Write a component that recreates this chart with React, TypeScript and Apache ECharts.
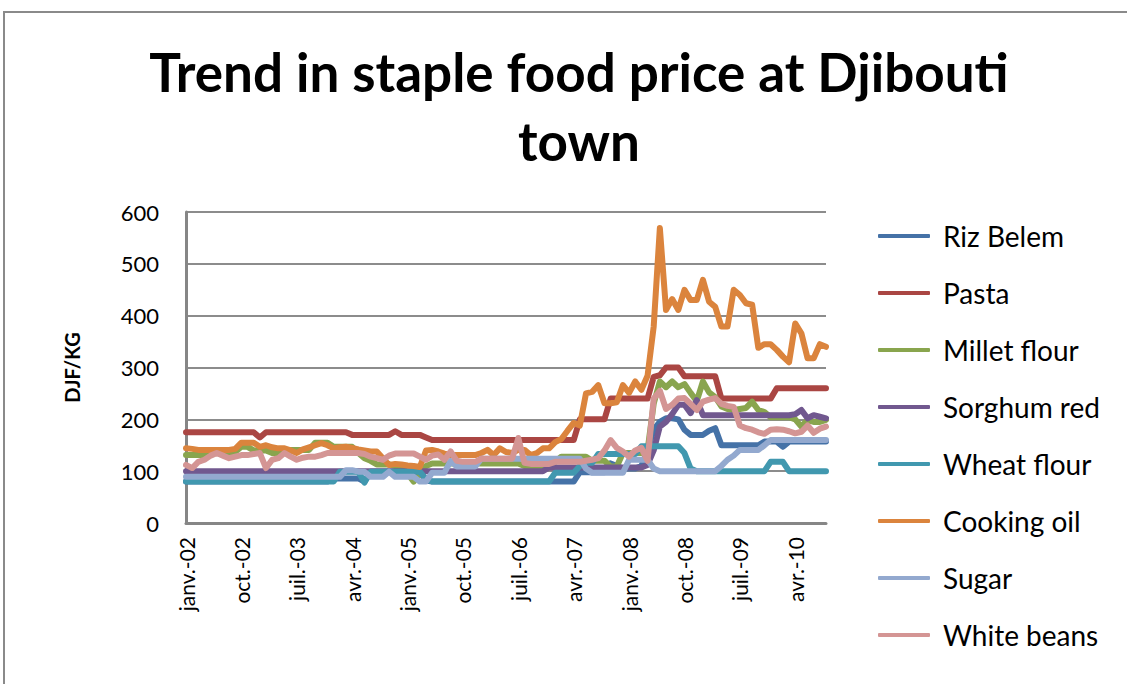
import React, { useEffect, useRef } from "react";
import * as echarts from "echarts";

const monthNames = ["janv.", "févr.", "mars", "avr.", "mai", "juin", "juil.", "août", "sept.", "oct.", "nov.", "déc."];
const years = ["02", "03", "04", "05", "06", "07", "08", "09", "10"];
const monthCount = 105;
const categories: string[] = years.flatMap((y) => monthNames.map((m) => `${m}-${y}`)).slice(0, monthCount);

const seriesNames = ["Riz Belem", "Pasta", "Millet flour", "Sorghum red", "Wheat flour", "Cooking oil", "Sugar", "White beans"];
const seriesColors = ["#4572A7", "#AA4643", "#89A54E", "#71588F", "#4198AF", "#DB843D", "#93A9CF", "#D49594"];

const rizBelem = [
  80, 80, 80, 80, 80, 80, 80, 80, 80, 80,
  80, 80, 80, 80, 80, 80, 80, 80, 80, 80,
  80, 80, 80, 80, 86, 86, 86, 86, 86, 80,
  99, 99, 99, 99, 99, 99, 99, 99, 99, 82,
  80, 80, 80, 80, 80, 80, 80, 80, 80, 80,
  80, 80, 80, 80, 80, 80, 80, 80, 80, 80,
  80, 80, 80, 80, 98, 98, 98, 98, 98, 115,
  110, 105, 105, 105, 110, 140, 180, 195, 202, 202,
  200, 180, 170, 170, 170, 178, 183, 150, 150, 150,
  150, 150, 150, 150, 157, 157, 157, 147, 157, 157,
  157, 157, 157, 157, 157,
];
const pasta = [
  175, 175, 175, 175, 175, 175, 175, 175, 175, 175,
  175, 175, 165, 175, 175, 175, 175, 175, 175, 175,
  175, 175, 175, 175, 175, 175, 175, 170, 170, 170,
  170, 170, 170, 170, 177, 170, 170, 170, 170, 165,
  160, 160, 160, 160, 160, 160, 160, 160, 160, 160,
  160, 160, 160, 160, 160, 160, 160, 160, 160, 160,
  160, 160, 160, 160, 200, 200, 200, 200, 200, 240,
  240, 240, 240, 240, 240, 240, 282, 285, 300, 300,
  300, 283, 283, 283, 283, 283, 283, 240, 240, 240,
  240, 240, 240, 240, 240, 240, 260, 260, 260, 260,
  260, 260, 260, 260, 260,
];
const milletFlour = [
  131, 131, 131, 131, 131, 137, 137, 137, 137, 147,
  147, 140, 140, 140, 135, 135, 135, 141, 141, 141,
  141, 155, 155, 155, 147, 147, 147, 147, 135, 125,
  120, 113, 113, 113, 110, 110, 95, 80, 95, 110,
  115, 115, 115, 115, 115, 115, 115, 115, 115, 115,
  115, 115, 115, 115, 115, 110, 110, 110, 110, 118,
  118, 128, 128, 128, 128, 128, 120, 120, 120, 109,
  109, 135, 135, 135, 135, 140, 230, 273, 262, 273,
  262, 268, 251, 235, 273, 252, 243, 225, 220, 218,
  220, 222, 234, 218, 214, 204, 204, 204, 204, 200,
  186, 199, 195, 195, 199,
];
const sorghumRed = [
  100, 100, 100, 100, 100, 100, 100, 100, 100, 100,
  100, 100, 100, 100, 100, 100, 100, 100, 100, 100,
  100, 100, 100, 100, 100, 100, 100, 100, 100, 100,
  100, 100, 100, 100, 100, 100, 100, 100, 100, 100,
  100, 100, 100, 100, 100, 100, 100, 100, 100, 100,
  100, 100, 100, 100, 100, 100, 100, 100, 100, 107,
  107, 107, 107, 107, 107, 107, 107, 107, 107, 107,
  107, 107, 107, 107, 107, 112, 140, 186, 195, 210,
  228, 228, 212, 237, 208, 208, 208, 208, 208, 208,
  208, 208, 208, 208, 208, 208, 208, 208, 208, 210,
  218, 202, 208, 205, 202,
];
const wheatFlour = [
  80, 80, 80, 80, 80, 80, 80, 80, 80, 80,
  80, 80, 80, 80, 80, 80, 80, 80, 80, 80,
  80, 80, 80, 80, 80, 99, 99, 99, 99, 78,
  99, 99, 99, 99, 99, 99, 99, 99, 99, 85,
  80, 80, 80, 80, 80, 80, 80, 80, 80, 80,
  80, 80, 80, 80, 80, 80, 80, 80, 80, 80,
  97, 97, 97, 97, 110, 116, 116, 133, 133, 133,
  133, 133, 133, 133, 148, 148, 148, 148, 148, 148,
  148, 135, 105, 100, 100, 100, 100, 100, 100, 100,
  100, 100, 100, 100, 100, 118, 118, 118, 100, 100,
  100, 100, 100, 100, 100,
];
const cookingOil = [
  144, 143, 141, 141, 141, 141, 141, 141, 143, 155,
  155, 155, 147, 150, 146, 144, 144, 140, 135, 142,
  146, 150, 154, 150, 144, 146, 147, 145, 142, 140,
  138, 138, 125, 112, 114, 113, 111, 110, 108, 140,
  141, 138, 134, 131, 131, 131, 131, 131, 135, 141,
  131, 144, 137, 135, 141, 141, 131, 135, 144, 144,
  156, 162, 178, 193, 188, 250, 253, 266, 231, 231,
  233, 266, 251, 273, 257, 284, 379, 569, 411, 432,
  411, 450, 430, 430, 469, 427, 417, 379, 379, 450,
  440, 424, 421, 338, 345, 345, 334, 321, 310, 385,
  366, 318, 318, 345, 340,
];
const sugar = [
  89, 89, 89, 89, 89, 89, 89, 89, 89, 89,
  89, 89, 89, 89, 89, 89, 89, 89, 89, 89,
  89, 89, 89, 89, 89, 89, 102, 102, 99, 99,
  89, 89, 89, 99, 89, 89, 89, 89, 80, 80,
  97, 97, 97, 120, 109, 109, 109, 109, 124, 124,
  124, 124, 124, 124, 124, 124, 124, 124, 124, 124,
  124, 124, 124, 124, 124, 105, 97, 97, 97, 97,
  97, 97, 122, 122, 122, 122, 105, 100, 100, 100,
  100, 100, 100, 100, 100, 100, 100, 110, 122, 130,
  141, 141, 141, 141, 150, 160, 160, 160, 160, 160,
  160, 160, 160, 160, 160,
];
const whiteBeans = [
  112, 106, 118, 122, 130, 135, 130, 125, 128, 131,
  131, 133, 135, 106, 122, 125, 135, 128, 122, 126,
  128, 128, 131, 135, 135, 135, 135, 135, 135, 133,
  128, 125, 122, 130, 134, 134, 134, 134, 128, 122,
  130, 132, 122, 138, 120, 118, 118, 118, 124, 124,
  124, 124, 124, 124, 164, 116, 114, 114, 114, 114,
  118, 118, 118, 118, 118, 120, 122, 125, 140, 160,
  145, 138, 128, 140, 145, 120, 240, 255, 220, 228,
  240, 241, 230, 218, 234, 238, 241, 230, 226, 224,
  188, 183, 180, 175, 172, 180, 181, 180, 177, 173,
  176, 188, 174, 182, 186,
];

const allSeries = [rizBelem, pasta, milletFlour, sorghumRed, wheatFlour, cookingOil, sugar, whiteBeans];
const yTicks = { min: 0, max: 600, interval: 100 };

const FONT = "Lato, 'Open Sans', sans-serif";

export default function App() {
  const ref = useRef<HTMLDivElement>(null);
  useEffect(() => {
    if (!ref.current) return;
    const chart = echarts.init(ref.current, undefined, { renderer: "svg" });
    chart.setOption({
      animation: false,
      backgroundColor: "#ffffff",
      textStyle: { fontFamily: FONT, color: "#000" },
      title: {
        text: "Trend in staple food price at Djibouti\ntown",
        left: 574,
        top: 32,
        textAlign: "center",
        textStyle: { fontFamily: FONT, fontWeight: "bold", fontSize: 53, lineHeight: 69, color: "#000" },
      },
      graphic: [
        {
          type: "rect",
          shape: { x: 4, y: 12, width: 1300, height: 900 },
          style: { fill: "none", stroke: "#8a8a8a", lineWidth: 2 },
          silent: true,
        },
      ],
      legend: {
        orient: "vertical",
        left: 873,
        top: 217,
        icon: "roundRect",
        itemWidth: 52,
        itemHeight: 4,
        itemGap: 29,
        data: seriesNames,
        textStyle: { fontFamily: FONT, fontSize: 28, lineHeight: 28, color: "#000", padding: [0, 0, 0, 8] },
      },
      grid: { left: 186, right: 301, top: 212, bottom: 161, containLabel: false },
      xAxis: {
        type: "category",
        data: categories,
        boundaryGap: false,
        axisLine: { lineStyle: { color: "#868686", width: 3 } },
        axisTick: { show: false },
        axisLabel: {
          interval: 8,
          rotate: 90,
          margin: 14,
          fontFamily: FONT,
          fontSize: 21,
          color: "#000",
        },
        splitLine: { show: false },
      },
      yAxis: {
        type: "value",
        min: yTicks.min,
        max: yTicks.max,
        interval: yTicks.interval,
        name: "DJF/KG",
        nameLocation: "middle",
        nameRotate: 90,
        nameGap: 104,
        nameTextStyle: { fontFamily: FONT, fontWeight: "bold", fontSize: 20, color: "#000" },
        axisLine: { show: true, lineStyle: { color: "#868686", width: 3 } },
        axisTick: { show: false },
        axisLabel: { margin: 27, fontFamily: FONT, fontSize: 22, color: "#000" },
        splitLine: { lineStyle: { color: "#8c8c8c", width: 2 } },
      },
      series: seriesNames.map((name, k) => ({
        name,
        type: "line",
        data: allSeries[k],
        showSymbol: false,
        symbol: "none",
        color: seriesColors[k],
        lineStyle: { width: 6, color: seriesColors[k], cap: "round", join: "round" },
      })),
    });
    return () => chart.dispose();
  }, []);
  return (
    <div
      ref={ref}
      style={{ position: "fixed", left: 0, top: 0, width: 1127, height: 684, background: "#fff" }}
    />
  );
}
